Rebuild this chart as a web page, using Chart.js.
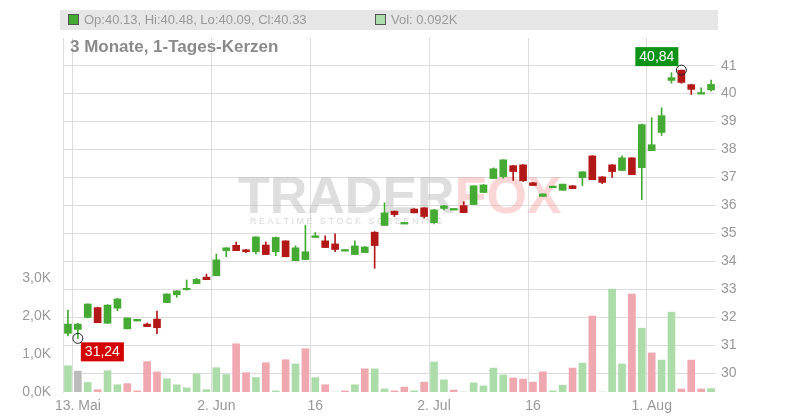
<!DOCTYPE html>
<html>
<head>
<meta charset="utf-8">
<script src="https://cdn.jsdelivr.net/npm/chart.js@4"></script>
<style>
  html, body { margin: 0; padding: 0; background: #fff; }
  #wrap { width: 800px; height: 420px; }
</style>
</head>
<body>
<div id="wrap"><canvas id="chart"></canvas></div>
<script>
// Kursdaten (3 Monate, Tageskerzen)
const opens  = [31.42,31.56,31.99,32.34,31.78,32.32,31.58,31.88,31.75,31.93,32.52,32.80,33.00,33.20,33.43,33.48,34.38,34.57,34.41,34.34,34.58,34.34,34.73,34.02,34.06,34.85,34.73,34.62,34.38,34.24,34.31,35.04,35.28,35.79,35.35,35.87,35.91,35.38,35.89,35.85,35.99,36.03,36.46,36.96,37.03,37.42,37.45,36.81,36.32,36.65,36.54,36.70,36.99,37.77,37.02,37.45,37.25,37.70,37.35,37.96,38.61,40.47,40.84,40.32,40.00,40.13];
const highs  = [32.25,31.78,32.47,32.36,32.45,32.67,31.98,31.90,31.79,32.22,32.83,32.95,33.33,33.39,33.54,34.26,34.49,34.69,34.43,34.88,34.69,34.87,34.73,34.55,35.28,35.03,34.91,34.98,34.40,34.73,34.53,35.06,36.09,35.80,35.37,35.88,35.92,35.86,36.00,35.87,36.13,36.70,36.75,37.34,37.63,37.43,37.46,36.82,36.41,36.67,36.76,36.71,37.21,37.78,37.03,37.46,37.77,37.71,38.91,39.14,39.49,40.75,40.84,40.33,40.21,40.48];
const lows   = [31.33,31.24,31.97,31.80,31.78,32.23,31.58,31.88,31.66,31.41,32.52,32.71,32.97,33.20,33.34,33.48,34.16,34.38,34.31,34.26,34.24,34.20,34.16,34.02,34.06,34.85,34.49,34.34,34.38,34.24,34.31,33.75,35.28,35.60,35.35,35.73,35.54,35.34,35.84,35.85,35.74,36.03,36.46,36.96,36.97,36.89,36.86,36.71,36.32,36.65,36.54,36.60,36.71,36.92,36.78,37.00,37.25,37.10,36.20,37.96,38.50,40.37,40.37,39.97,40.00,40.09];
const closes = [31.75,31.75,32.47,31.80,32.43,32.65,31.97,31.90,31.66,31.62,32.83,32.94,33.01,33.35,33.34,34.05,34.48,34.38,34.34,34.87,34.24,34.85,34.16,34.48,34.34,34.91,34.49,34.42,34.40,34.55,34.51,34.56,35.73,35.67,35.37,35.73,35.60,35.84,35.98,35.87,35.74,36.70,36.73,37.31,37.63,37.21,36.88,36.71,36.41,36.67,36.76,36.60,37.20,36.92,36.82,37.21,37.70,37.10,38.89,38.17,39.21,40.57,40.40,40.15,40.02,40.33];
// Volumen in Tausend, Richtung: u = steigend, d = fallend, n = neutral
const volumes = [0.69,0.55,0.25,0.06,0.56,0.19,0.22,0.03,0.80,0.53,0.35,0.19,0.11,0.48,0.06,0.64,0.46,1.27,0.51,0.38,0.77,0.03,0.85,0.74,1.14,0.38,0.19,0,0.03,0.19,0.61,0.61,0.08,0.03,0.13,0.03,0.26,0.79,0.32,0.05,0,0.24,0.16,0.63,0.45,0.37,0.34,0.26,0.53,0.03,0.18,0.63,0.76,2.00,0,2.71,0.74,2.58,1.68,1.03,0.84,2.10,0.08,0.84,0.08,0.09];
const volDir = ["u","n","u","d","u","u","d","d","d","d","u","u","u","u","u","u","u","d","d","u","d","u","d","u","d","u","d","u","d","u","d","u","u","d","d","u","d","u","u","d","u","u","u","u","u","d","d","d","d","u","u","d","u","d","u","u","u","d","u","d","u","u","d","d","d","u"];
// Achsenbeschriftung
const dateLabels = {1: "13. Mai", 15: "2. Jun", 25: "16", 37: "2. Jul", 47: "16", 59: "1. Aug"};
const priceTicks = [30,31,32,33,34,35,36,37,38,39,40,41];
const volTicks = [0,1,2,3];

const GREEN = "#44aa33", RED = "#b31818";
const VGREEN = "#acdcaa", VRED = "#efa7b0", VGRAY = "#bbbbbb";
const labels = opens.map((_, i) => dateLabels[i] || "");
const up = opens.map((o, i) => closes[i] >= o);
const candleColors = up.map(u => u ? GREEN : RED);
const volColors = volDir.map(d => d === "u" ? VGREEN : d === "d" ? VRED : VGRAY);
const bodies = opens.map((o, i) => {
    const c = closes[i];
    return Math.abs(c - o) < 0.04 ? [Math.min(o, c) - 0.02, Math.max(o, c) + 0.02] : [o, c];
});
const wicks = lows.map((l, i) => [l, highs[i]]);

const fmtDE = v => v.toFixed(2).replace(".", ",");

const decoPlugin = {
    id: "deco",
    beforeDatasetsDraw(chart) {
        const ctx = chart.ctx;
        ctx.save();
        // Wasserzeichen
        ctx.font = "bold 52px 'Liberation Sans', Arial, sans-serif";
        ctx.textBaseline = "alphabetic";
        ctx.fillStyle = "rgba(190,190,190,0.5)";
        ctx.fillText("TRADER", 238, 213);
        const w = ctx.measureText("TRADER").width;
        ctx.fillStyle = "rgba(245,165,165,0.45)";
        ctx.fillText("FOX", 238 + w, 213);
        ctx.font = "9px 'Liberation Sans', Arial, sans-serif";
        ctx.fillStyle = "rgba(190,190,190,0.6)";
        ctx.fillText("R E A L T I M E   S T O C K   S C R E E N I N G", 250, 224);
        ctx.restore();
    },
    afterDraw(chart) {
        const ctx = chart.ctx;
        const x = chart.scales.x, y = chart.scales.y;
        ctx.save();
        // Kopfzeile
        ctx.fillStyle = "#e6e6e6";
        ctx.fillRect(60, 10, 658, 20);
        ctx.font = "13px 'Liberation Sans', Arial, sans-serif";
        ctx.textBaseline = "middle";
        ctx.fillStyle = GREEN;
        ctx.fillRect(68, 14, 11, 11);
        ctx.strokeStyle = "#555"; ctx.lineWidth = 1;
        ctx.strokeRect(68.5, 14.5, 10, 10);
        ctx.fillStyle = "#999";
        ctx.fillText("Op:40.13, Hi:40.48, Lo:40.09, Cl:40.33", 84, 20);
        ctx.fillStyle = VGREEN;
        ctx.fillRect(375, 14, 11, 11);
        ctx.strokeRect(375.5, 14.5, 10, 10);
        ctx.fillStyle = "#999";
        ctx.fillText("Vol: 0.092K", 391, 20);
        ctx.font = "bold 17px 'Liberation Sans', Arial, sans-serif";
        ctx.fillStyle = "#8a8a8a";
        ctx.fillText("3 Monate, 1-Tages-Kerzen", 70, 47);

        // Hoch/Tief-Markierungen
        const hi = highs.indexOf(Math.max(...highs));
        const lo = lows.indexOf(Math.min(...lows));
        const drawMark = (px, py) => {
            ctx.beginPath(); ctx.arc(px, py, 5, 0, Math.PI * 2);
            ctx.strokeStyle = "#222"; ctx.lineWidth = 1; ctx.stroke();
        };
        const hx = x.getPixelForValue(hi), hy = y.getPixelForValue(highs[hi]);
        const lx = x.getPixelForValue(lo), ly = y.getPixelForValue(lows[lo]);
        ctx.font = "14px 'Liberation Sans', Arial, sans-serif";
        ctx.textBaseline = "middle";
        let t = fmtDE(highs[hi]), tw = ctx.measureText(t).width + 8;
        ctx.fillStyle = "#0d9418";
        ctx.fillRect(hx - 3 - tw, hy - 23, tw, 19);
        ctx.fillStyle = "#fff";
        ctx.fillText(t, hx - tw + 1, hy - 13);
        drawMark(hx, hy);
        t = fmtDE(lows[lo]); tw = ctx.measureText(t).width + 8;
        ctx.fillStyle = "#d40000";
        ctx.fillRect(lx + 3, ly + 4, tw, 19);
        ctx.fillStyle = "#fff";
        ctx.fillText(t, lx + 7, ly + 14);
        drawMark(lx, ly);
        ctx.restore();
    }
};

new Chart(document.getElementById("chart").getContext("2d"), {
    type: "bar",
    data: {
        labels: labels,
        datasets: [
            { data: volumes, yAxisID: "yv", backgroundColor: volColors, barThickness: 7, order: 3 },
            { data: wicks, yAxisID: "y", backgroundColor: candleColors, barThickness: 1, order: 2 },
            { data: bodies, yAxisID: "y", backgroundColor: candleColors, barThickness: 7, order: 1 }
        ]
    },
    options: {
        responsive: true,
        maintainAspectRatio: false,
        animation: false,
        layout: { padding: { top: 38, left: 0, right: 0, bottom: 0 } },
        datasets: { bar: { grouped: false, borderWidth: 0 } },
        plugins: { legend: { display: false }, tooltip: { enabled: false } },
        scales: {
            x: {
                offset: true,
                grid: {
                    color: ctx => (ctx.tick && ctx.tick.label) ? "#dddddd" : "rgba(0,0,0,0)",
                    drawTicks: false
                },
                border: { display: false },
                ticks: {
                    autoSkip: false, maxRotation: 0, color: "#999", padding: 6,
                    font: { size: 14, family: "'Liberation Sans', Arial, sans-serif" }
                },
                afterFit: s => { s.height = 28; }
            },
            y: {
                position: "right",
                min: 29.32, max: 41.99,
                afterBuildTicks: s => { s.ticks = priceTicks.map(v => ({ value: v })); },
                grid: { color: "#dddddd", drawTicks: false },
                border: { display: false },
                ticks: {
                    color: "#999", padding: 5,
                    font: { size: 14, family: "'Liberation Sans', Arial, sans-serif" }
                },
                afterFit: s => { s.width = 84; }
            },
            yv: {
                position: "left",
                min: 0, max: 9.32,
                afterBuildTicks: s => { s.ticks = volTicks.map(v => ({ value: v })); },
                grid: { display: false },
                border: { color: "#dddddd" },
                ticks: {
                    color: "#999", padding: 4,
                    font: { size: 14, family: "'Liberation Sans', Arial, sans-serif" },
                    callback: v => v.toFixed(1).replace(".", ",") + "K"
                },
                afterFit: s => { s.width = 63; }
            }
        }
    },
    plugins: [decoPlugin]
});
</script>
</body>
</html>
